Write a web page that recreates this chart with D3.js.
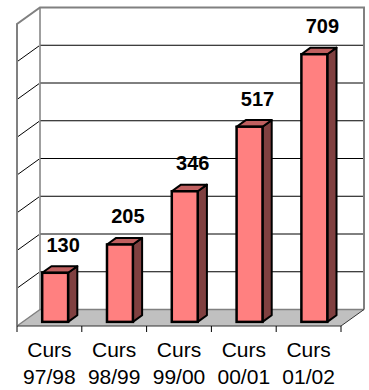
<!DOCTYPE html>
<html>
<head>
<meta charset="utf-8">
<script src="https://cdn.jsdelivr.net/npm/d3@7"></script>
<style>
  body { margin: 0; background: #fff; }
  text { font-family: "Liberation Sans", Arial, sans-serif; }
</style>
</head>
<body>
<div id="chart"></div>
<script>
// data
const cursos = ["97/98", "98/99", "99/00", "00/01", "01/02"];
const alumnes = [130, 205, 346, 517, 709];
const yTicks = [0, 100, 200, 300, 400, 500, 600, 700, 800];

const W = 369, H = 390;
// 3d depth offset of the back wall
const DX = 23, DY = -16.5;
// bars sit between these depth fractions
const d1 = 0.25, d2 = 0.65;

const svg = d3.select("#chart")
    .append("svg")
    .attr("width", W)
    .attr("height", H);

// scales on the front plane
const xCat = d3.scaleBand()
    .domain(cursos)
    .range([17, 341]);

const xBar = d3.scaleBand()
    .domain(cursos)
    .range([17, 341])
    .paddingInner(0.6)
    .paddingOuter(0.3);

const y = d3.scaleLinear()
    .domain([0, 800])
    .range([326, 24]);

const x0 = xCat.range()[0], x1 = xCat.range()[1];
const yb = y(0), yt = y(800);

// back wall
svg.append("rect")
    .attr("x", x0 + DX).attr("y", yt + DY)
    .attr("width", x1 - x0).attr("height", yb - yt)
    .attr("fill", "#fff");

// floor
svg.append("polygon")
    .attr("points", [[x0, yb], [x1, yb], [x1 + DX, yb + DY], [x0 + DX, yb + DY]].join(" "))
    .attr("fill", "#c0c0c0");

// gridlines, back wall + left wall
const grid = svg.append("g");
yTicks.slice(1, -1).forEach(function (v) {
    grid.append("line")
        .attr("x1", x0 + DX).attr("x2", x1 + DX)
        .attr("y1", y(v) + DY).attr("y2", y(v) + DY)
        .attr("stroke", "#000").attr("stroke-width", 1);
    grid.append("line")
        .attr("x1", x0).attr("x2", x0 + DX - 1)
        .attr("y1", y(v)).attr("y2", y(v) + DY + 0.7)
        .attr("stroke", "#000").attr("stroke-width", 1);
});

// wall borders
const edge = "#808080";
svg.append("path")
    .attr("d", `M${x0},${yb} L${x0},${yt} L${x0 + DX},${yt + DY} L${x1 + DX},${yt + DY} L${x1 + DX},${yb + DY}`)
    .attr("fill", "none").attr("stroke", edge).attr("stroke-width", 2);
svg.append("path")
    .attr("d", `M${x0 + DX},${yt + DY} L${x0 + DX},${yb + DY} L${x1 + DX},${yb + DY} M${x0 + DX},${yb + DY} L${x0},${yb}`)
    .attr("fill", "none").attr("stroke", edge).attr("stroke-width", 1.5);

// bars
const bars = svg.append("g")
    .selectAll("g")
    .data(cursos)
    .join("g");

const fx = DX * d1, fy = DY * d1;
const sx = DX * (d2 - d1), sy = DY * (d2 - d1);
const bw = xBar.bandwidth();

bars.each(function (c, i) {
    const g = d3.select(this);
    const left = xBar(c) + fx, right = left + bw;
    const top = y(alumnes[i]) + fy, bot = yb + fy;
    // side
    g.append("polygon")
        .attr("points", [[right, top], [right + sx, top + sy], [right + sx, bot + sy], [right, bot]].join(" "))
        .attr("fill", "#804040").attr("stroke", "#000").attr("stroke-width", 2).attr("stroke-linejoin", "round");
    // top
    g.append("polygon")
        .attr("points", [[left, top], [left + sx, top + sy], [right + sx, top + sy], [right, top]].join(" "))
        .attr("fill", "#c06060").attr("stroke", "#000").attr("stroke-width", 2).attr("stroke-linejoin", "round");
    // front
    g.append("rect")
        .attr("x", left).attr("y", top)
        .attr("width", bw).attr("height", bot - top)
        .attr("fill", "#ff8080").attr("stroke", "#000").attr("stroke-width", 2.5);
    // value label
    g.append("text")
        .attr("x", left + bw / 2 + 8)
        .attr("y", top - 21)
        .attr("text-anchor", "middle")
        .attr("font-size", 20)
        .attr("font-weight", "bold")
        .text(alumnes[i]);
});

// category axis
svg.append("path")
    .attr("d", `M${x0},${yb} L${x1},${yb} L${x1 + DX},${yb + DY}`)
    .attr("fill", "none").attr("stroke", "#333").attr("stroke-width", 1);

svg.append("g")
    .selectAll("line")
    .data(cursos.concat(["end"]))
    .join("line")
    .attr("x1", (c, i) => i < cursos.length ? xCat(c) : x1)
    .attr("x2", (c, i) => i < cursos.length ? xCat(c) : x1)
    .attr("y1", yb).attr("y2", yb + 6)
    .attr("stroke", "#000").attr("stroke-width", 1);

const lab = svg.append("g")
    .selectAll("text")
    .data(cursos)
    .join("text")
    .attr("text-anchor", "middle")
    .attr("font-size", 21)
    .attr("x", c => xCat(c) + xCat.bandwidth() / 2);
lab.append("tspan").attr("x", c => xCat(c) + xCat.bandwidth() / 2).attr("y", 357).text("Curs");
lab.append("tspan").attr("x", c => xCat(c) + xCat.bandwidth() / 2).attr("y", 384).text(c => c);
</script>
</body>
</html>
